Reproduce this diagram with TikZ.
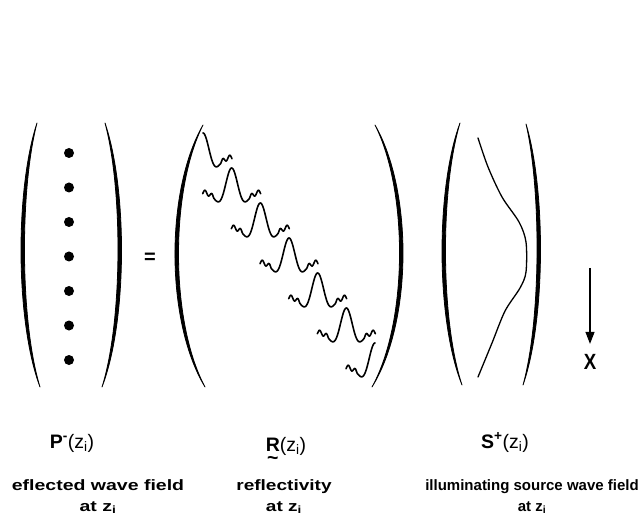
\documentclass[tikz,border=0pt]{standalone}
\usepackage{fontspec}
\setmainfont{Liberation Sans}
\usetikzlibrary{arrows.meta}

% tall bracket as a filled crescent: top x,y / bottom x,y / outer and inner control x
\newcommand{\mparen}[6]{%
  \filldraw[brk] (#1,#2) .. controls (#5,{#2+0.25*(#4-#2)}) and (#5,{#4-0.25*(#4-#2)}) .. (#3,#4)
    .. controls (#6,{#4-0.25*(#4-#2)}) and (#6,{#2+0.25*(#4-#2)}) .. (#1,#2) -- cycle;}

\tikzset{
  declare function={wv(\t)=25*cos(180*\t/16.5)*exp(-(\t/14.5)^2)+(abs(\t)>18)*2.5*sin(360*(abs(\t)-18)/7);},
  wavelet left/.pic={\draw[wav] plot[domain=-29:0, samples=50, smooth] (\x,{25-wv(\x)});},
  wavelet right/.pic={\draw[wav] plot[domain=0:29, samples=50, smooth] (\x,{25-wv(\x)});},
  wavelet/.pic={\draw[wav] plot[domain=-29:29, samples=99, smooth] (\x,{25-wv(\x)});}
}

\begin{document}
\begin{tikzpicture}[
  x=1pt, y=-1pt,
  brk/.style={fill=black, draw=black, line width=0.8pt, line join=round},
  wav/.style={line width=1.6pt, line cap=round, line join=round},
  src/.style={line width=1.3pt, line cap=round},
  lab/.style={font=\fontsize{19.5}{21}\selectfont, inner sep=0pt, anchor=base},
  capt/.style={font=\bfseries\fontsize{15}{21}\selectfont, align=center, inner sep=0pt, anchor=base},
  arrow/.style={-{Triangle[length=12pt,width=9pt]}, line width=1.2pt}
]
  \useasboundingbox (0,0) rectangle (639,518);

  % P vector
  \mparen{37}{123}{40}{387}{15.2}{19.8}
  \mparen{105}{123}{102}{387}{127.5}{122.8}
  \foreach \i in {0,...,6}
    \fill ({69},{153+34.5*\i}) circle (5);

  \node[font=\bfseries\fontsize{20}{20}\selectfont] (eq) at (150,258) {=};

  % R matrix
  \mparen{203}{125}{205}{387}{165.3}{170}
  \mparen{375}{125}{372}{387}{412.8}{408.2}
  \pic at (203,133) {wavelet right};
  \foreach \i in {1,...,5}
    \pic at ({203+28.67*\i},{133+35*\i}) {wavelet};
  \pic at (375,343) {wavelet left};

  % S vector
  \mparen{460}{123}{462}{385}{435.7}{440.3}
  \mparen{526}{124}{523}{385}{545.8}{541.2}
  \draw[src] plot[smooth] coordinates {(478,138) (488,167) (502,197) (519,222) (526,242)
    (526,272) (520,288) (505,311) (492,343) (478,377)};

  % depth axis
  \coordinate (xtop) at (590,268);
  \node[font=\bfseries\fontsize{22}{22}\selectfont, xscale=0.85] (xlab) at (590,362) {X};
  \draw[arrow, shorten >=7pt] (xtop) -- (xlab);

  % labels
  \node[lab] (plab) at (72,448) {\textbf{P}\textsuperscript{\textbf{-}}(z\textsubscript{i})};
  \node[lab] (rlab) at (286,451)
    {\ooalign{\textbf{R}\cr\hidewidth\raisebox{-0.68em}[0pt][0pt]{\textbf{\char"7E}}\hidewidth}(z\textsubscript{i})};
  \node[lab] (slab) at (505,448) {\textbf{S}\textsuperscript{\textbf{+}}(z\textsubscript{i})};

  \node[capt, xscale=1.3] (pcap) at (98,511) {eflected wave field\\at z\textsubscript{i}};
  \node[capt, xscale=1.27] (rcap) at (284,511) {reflectivity\\at z\textsubscript{i}};
  \node[capt] (scap) at (532,511) {illuminating source wave field\\at z\textsubscript{i}};
\end{tikzpicture}
\end{document}
